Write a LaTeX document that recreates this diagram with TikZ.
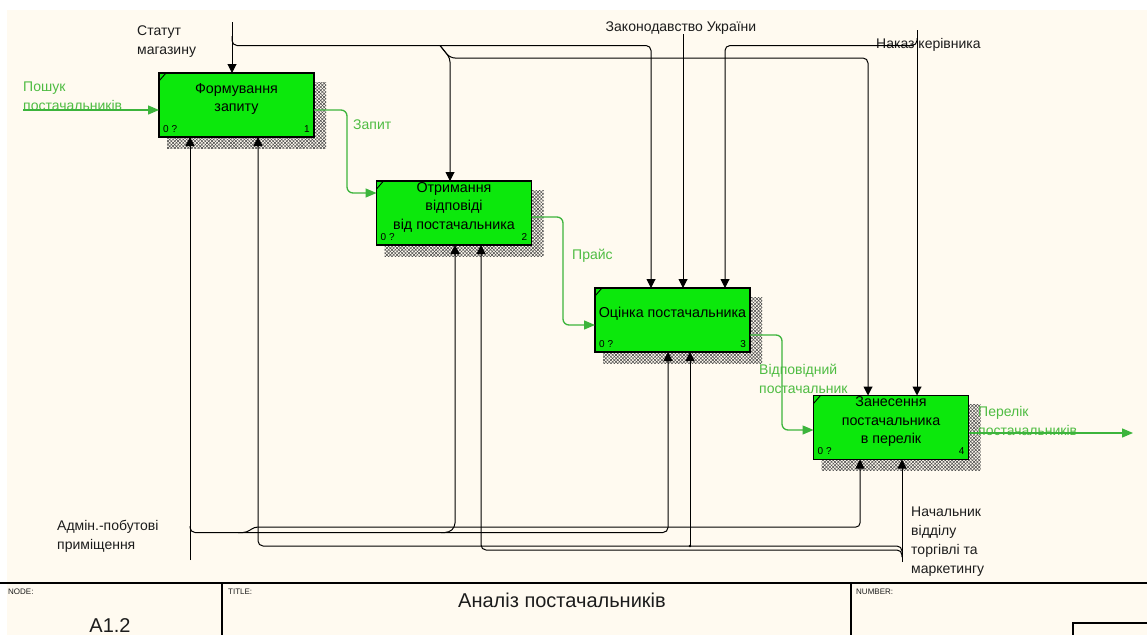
\documentclass[tikz,border=0pt]{standalone}
\usepackage{fontspec}
\setmainfont{Liberation Sans}
\usetikzlibrary{arrows.meta,patterns.meta,calc}
\definecolor{paper}{RGB}{255,250,240}
\definecolor{fngreen}{RGB}{12,232,12}
\definecolor{flow}{RGB}{60,180,60}
\definecolor{flowtxt}{RGB}{78,188,66}
\definecolor{ink}{RGB}{28,28,28}
\definecolor{hatch}{RGB}{70,70,70}

\begin{document}
\begin{tikzpicture}[x=1pt,y=-1pt,
  fn/.style={draw=black, line width=1.6pt, fill=fngreen, minimum width=155pt,
    minimum height=64pt, inner sep=0pt, outer sep=0pt},
  fntext/.style={align=center, text=black, inner sep=0pt,
    font=\fontsize{14.3}{18.5}\selectfont},
  fnnum/.style={inner sep=0pt, text=black, font=\fontsize{10}{10}\selectfont},
  lbl/.style={align=left, inner sep=0pt, text=ink, font=\fontsize{14}{19}\selectfont},
  glbl/.style={lbl, text=flowtxt},
  ctrl/.style={draw=black, line width=1pt, -{Triangle[length=9pt,width=9pt]}},
  flowl/.style={draw=flow, line width=1.3pt, -{Triangle[length=11pt,width=9pt]}},
  shadow/.style={pattern={Lines[angle=45,distance=2.4pt,line width=0.5pt]}, pattern color=hatch},
  shadowb/.style={pattern={Lines[angle=-45,distance=2.4pt,line width=0.5pt]}, pattern color=hatch},
  small/.style={inner sep=0pt, text=ink, font=\fontsize{8}{8}\selectfont},
  big/.style={inner sep=0pt, text=ink, font=\fontsize{20}{20}\selectfont}
]
% page
\fill[white] (0,0) rectangle (1147,635);
\fill[paper] (7,10) rectangle (1147,635);
\path[use as bounding box] (0,0) rectangle (1147,635);

% activity box centres
\path (236.5,105) coordinate (c1) (454,213) coordinate (c2)
      (672.5,320) coordinate (c3) (891,427.5) coordinate (c4);

% hatched drop shadows
\foreach \c in {c1,c2,c3,c4}{
  \fill[shadow]  ($(\c)+(-69.5,-23)$) rectangle ($(\c)+(89.5,43)$);
  \fill[shadowb] ($(\c)+(-69.5,-23)$) rectangle ($(\c)+(89.5,43)$);
}

\node[fn] (b1) at (c1) {};
\node[fn] (b2) at (c2) {};
\node[fn] (b3) at (c3) {};
\node[fn] (b4) at (c4) {};

% corner ticks
\foreach \b in {b1,b2,b3,b4}{
  \draw[line width=0.9pt] ($(\b.north west)+(0,8)$) -- ($(\b.north west)+(7,0)$);
}

% box texts
\node[fntext] (b1t) at ($(b1.center)+(0,-6)$) {Формування\\запиту};
\node[fntext] (b2t) at ($(b2.center)+(0,-6)$) {Отримання\\відповіді\\від постачальника};
\node[fntext] (b3t) at ($(b3.center)+(0,-6)$) {Оцінка постачальника};
\node[fntext] (b4t) at ($(b4.center)+(0,-6)$) {Занесення\\постачальника\\в перелік};

% box corner numbers
\foreach \b/\n in {b1/1,b2/2,b3/3,b4/4}{
  \node[fnnum, anchor=west] (\b z) at ($(\b.south west)+(4,-8)$) {0 ?};
  \node[fnnum, anchor=east] (\b n) at ($(\b.south east)+(-4,-8)$) {\n};
}

% free ends of the boundary arrows
\coordinate (statut) at (232,22);
\coordinate (zakon) at (683,34);
\coordinate (nakaz) at (917,30);
\coordinate (adm) at (190,560);
\coordinate (nach) at (902,562);
\coordinate (poshuk) at (23,110);
\coordinate (perelik) at (1133,433);

% labels
\node[lbl, anchor=west] (lStatut) at (137,41.5) {Статут\\магазину};
\node[lbl, anchor=center] (lZakon) at (681,28) {Законодавство України};
\node[lbl, anchor=west] (lNakaz) at (876,44.5) {Наказ керівника};
\node[glbl, anchor=west] (lPoshuk) at (23,96.5) {Пошук\\постачальників};
\node[glbl, anchor=west] (lZapyt) at (353,125) {Запит};
\node[glbl, anchor=west] (lPrais) at (572,256) {Прайс};
\node[glbl, anchor=west] (lVidp) at (759,378.5) {Відповідний\\постачальник};
\node[glbl, anchor=west] (lPerelik) at (978,420.5) {Перелік\\постачальників};
\node[lbl, anchor=west] (lAdm) at (57,536.5) {Адмін.-побутові\\приміщення};
\node[lbl, anchor=west] (lNach) at (911,542) {Начальник\\відділу\\торгівлі та\\маркетингу};

% controls
\draw[ctrl] (statut) -- (statut |- b1.north);
\draw[ctrl, rounded corners=5pt] (232,36) -- (232,45.5) -- (651,45.5) -- (651,0 |- b3.north);
\draw[ctrl, rounded corners=4pt] (440,45.5) -- (450,58) -- (450,0 |- b2.north);
\draw[ctrl, rounded corners=5pt] (440,45.5) -- (450,58) -- (868,58) -- (868,0 |- b4.north);
\draw[ctrl] (zakon) -- (zakon |- b3.north);
\draw[ctrl] (nakaz) -- (nakaz |- b4.north);
\draw[ctrl, rounded corners=5pt] (917,38) -- (917,45.5) -- (725,45.5) -- (725,0 |- b3.north);

% mechanisms
\draw[ctrl] (adm) -- (adm |- b1.south);
\draw[ctrl, rounded corners=5pt] (190,526) -- (190,532.5) -- (668,532.5) -- (668,0 |- b3.south);
\draw[ctrl, rounded corners=4pt] (238,532.5) -- (247,532.5) -- (254,527) -- (860,527) -- (860,0 |- b4.south);
\draw[ctrl, rounded corners=4pt] (441,532.5) -- (449,532.5) -- (455,527) -- (455,0 |- b2.south);
\draw[ctrl] (nach) -- (nach |- b4.south);
\draw[ctrl, rounded corners=5pt] (902,557) -- (902,546) -- (258,546) -- (258,0 |- b1.south);
\draw[ctrl, rounded corners=5pt] (902,557) -- (902,550) -- (481,550) -- (481,0 |- b2.south);
\draw[ctrl] (690,546) -- (690,0 |- b3.south);
\fill[black] (690,546) circle (1.3pt);

% inputs and outputs
\draw[flowl] (poshuk) -- (poshuk -| b1.west);
\draw[flowl, rounded corners=6pt] (b1.east |- 0,110) -- (347,110) -- (347,193) -- (b2.west |- 0,193);
\draw[flowl, rounded corners=6pt] (b2.east |- 0,217) -- (563,217) -- (563,325) -- (b3.west |- 0,325);
\draw[flowl, rounded corners=6pt] (b3.east |- 0,335) -- (782,335) -- (782,430) -- (b4.west |- 0,430);
\draw[flowl] (b4.east |- 0,433) -- (perelik);

% title block
\draw[line width=1.6pt] (0,583) -- (1147,583);
\draw[line width=1.2pt] (222,583) -- (222,635);
\draw[line width=1.2pt] (851,583) -- (851,635);
\draw[line width=1.2pt] (1147,623) -- (1073,623) -- (1073,635);
\node[small, anchor=west] (fNode) at (8,592) {NODE:};
\node[small, anchor=west] (fTitle) at (228,592) {TITLE:};
\node[small, anchor=west] (fNum) at (856,592) {NUMBER:};
\node[big] (fA) at (110,626) {A1.2};
\node[big] (fT) at (562,600) {Аналіз постачальників};
\end{tikzpicture}
\end{document}
